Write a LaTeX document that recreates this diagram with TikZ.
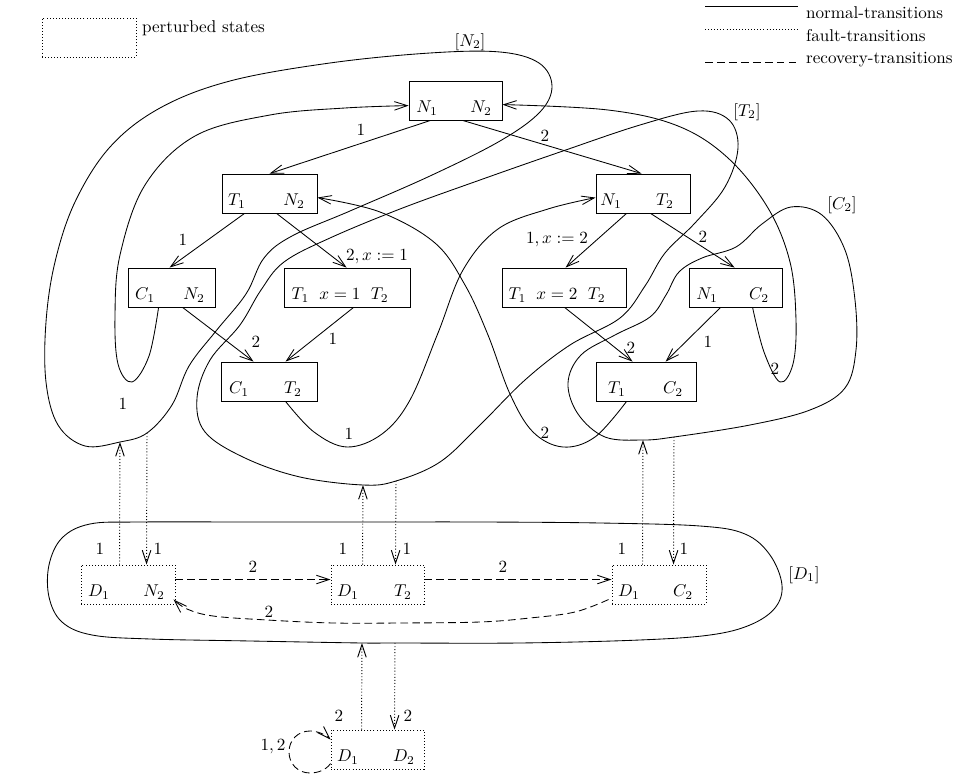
\documentclass[tikz,border=0pt]{standalone}
\usetikzlibrary{arrows.meta,calc}
\begin{document}
\begin{tikzpicture}[x=0.585pt,y=-0.585pt,line width=0.5pt,
  stbox/.style={draw,rectangle,inner sep=0pt,minimum height=22.8pt},
  dotln/.style={line width=0.55pt,dash pattern=on 0.55pt off 1.25pt},
  pbox/.style={stbox,dotln},
  stxt/.style={anchor=base,inner sep=0pt},
  lab/.style={inner sep=0pt},
  tipv/.style={-{Straight Barb[length=7.5pt,width=5pt]}},
  normal/.style={tipv},
  fault/.style={tipv,dotln},
  recov/.style={tipv,dash pattern=on 4.5pt off 2.5pt},
  loopline/.style={line width=0.5pt},
]
\useasboundingbox (0,0) rectangle (959,777);

% ---------- legend ----------
\node[pbox,minimum width=55pt] (leg) at (89,37.5) {};
\node[anchor=west] (legt) at (136,28) {perturbed states};
\coordinate (l1a) at (705,6);  \coordinate (l1b) at (798,6);
\coordinate (l2a) at (705,29); \coordinate (l2b) at (798,29);
\coordinate (l3a) at (705,62); \coordinate (l3b) at (798,62);
\draw (l1a) -- (l1b);
\draw[dotln] (l2a) -- (l2b);
\draw[dash pattern=on 4.5pt off 2.5pt] (l3a) -- (l3b);
\node[anchor=west] (lt1) at (800,13) {normal-transitions};
\node[anchor=west] (lt2) at (800,36) {fault-transitions};
\node[anchor=west] (lt3) at (800,60) {recovery-transitions};

% ---------- state boxes ----------
\node[stbox,minimum width=54.4pt] (n1n2) at (455.5,100.5) {};
\node[stbox,minimum width=55.6pt] (t1n2) at (269.5,193.5) {};
\node[stbox,minimum width=55.0pt] (n1t2) at (643,193.5) {};
\node[stbox,minimum width=50.9pt] (c1n2) at (171.5,287.5) {};
\node[stbox,minimum width=73.7pt] (t1x1) at (347,287.5) {};
\node[stbox,minimum width=56.2pt] (c1t2) at (269,381.5) {};
\node[stbox,minimum width=72.5pt] (t1x2) at (564,287.5) {};
\node[stbox,minimum width=54.4pt] (n1c2) at (735.5,287.5) {};
\node[stbox,minimum width=58.5pt] (t1c2) at (646,381.5) {};
\node[pbox,minimum width=55.0pt] (d1n2) at (128,584.5) {};
\node[pbox,minimum width=54.4pt] (d1t2) at (377.5,584.5) {};
\node[pbox,minimum width=55.0pt] (d1c2) at (659,584.5) {};
\node[pbox,minimum width=54.4pt] (d1d2) at (377.5,749.5) {};

% box texts
\node[stxt] (n1n2a) at (427,113) {$N_1$};
\node[stxt] (n1n2b) at (481,113) {$N_2$};
\node[stxt] (t1n2a) at (237,206) {$T_1$};
\node[stxt] (t1n2b) at (294,206) {$N_2$};
\node[stxt] (n1t2a) at (611,206) {$N_1$};
\node[stxt] (n1t2b) at (665,206) {$T_2$};
\node[stxt] (c1n2a) at (145,300) {$C_1$};
\node[stxt] (c1n2b) at (194,300) {$N_2$};
\node[stxt] (t1x1a) at (340,300) {$T_1$\hspace{6pt}$x=1$\hspace{6pt}$T_2$};
\node[stxt] (c1t2a) at (239,394) {$C_1$};
\node[stxt] (c1t2b) at (293,394) {$T_2$};
\node[stxt] (t1x2a) at (557,300) {$T_1$\hspace{6pt}$x=2$\hspace{6pt}$T_2$};
\node[stxt] (n1c2a) at (707,300) {$N_1$};
\node[stxt] (n1c2b) at (759,300) {$C_2$};
\node[stxt] (t1c2a) at (617,394) {$T_1$};
\node[stxt] (t1c2b) at (673,394) {$C_2$};
\node[stxt] (d1n2a) at (99,597) {$D_1$};
\node[stxt] (d1n2b) at (154,597) {$N_2$};
\node[stxt] (d1t2a) at (348,597) {$D_1$};
\node[stxt] (d1t2b) at (403,597) {$T_2$};
\node[stxt] (d1c2a) at (629,597) {$D_1$};
\node[stxt] (d1c2b) at (683,597) {$C_2$};
\node[stxt] (d1d2a) at (348,762) {$D_1$};
\node[stxt] (d1d2b) at (404,762) {$D_2$};

% ---------- separator ----------
\coordinate (sepa) at (11,507); \coordinate (sepb) at (882,507);
\draw[double,double distance=0.8pt,line width=0.4pt] (sepa) -- (sepb);

% ---------- normal transitions (straight) ----------
\draw[normal] ($(n1n2.south west)+(22,0)$) -- ($(t1n2.north west)+(48,0)$);
\draw[normal] ($(n1n2.south west)+(54,0)$) -- ($(n1t2.north west)+(46,0)$);
\draw[normal] ($(t1n2.south west)+(23,0)$) -- ($(c1n2.north west)+(42,0)$);
\draw[normal] ($(t1n2.south west)+(55,0)$) -- ($(t1x1.north west)+(63,0)$);
\draw[normal] ($(c1n2.south west)+(55,0)$) -- ($(c1t2.north west)+(33,0)$);
\draw[normal] ($(t1x1.south west)+(70,0)$) -- ($(c1t2.north west)+(65,0)$);
\draw[normal] ($(n1t2.south west)+(31,0)$) -- ($(t1x2.north west)+(64,0)$);
\draw[normal] ($(n1t2.south west)+(55,0)$) -- ($(n1c2.north west)+(46,0)$);
\draw[normal] ($(t1x2.south west)+(63,0)$) -- ($(t1c2.north west)+(37,0)$);
\draw[normal] ($(n1c2.south west)+(32,0)$) -- ($(t1c2.north west)+(70,0)$);

% ---------- normal transitions (curved) ----------
\coordinate (e11a) at ($(c1n2.south west)+(31,0)$);
\coordinate (e11b) at ($(n1n2.north west)+(0,25)$);
\coordinate (e12a) at ($(c1t2.south west)+(65,0)$);
\coordinate (e12b) at ($(n1t2.north west)+(0,24)$);
\coordinate (e13a) at ($(t1c2.south west)+(31,0)$);
\coordinate (e13b) at ($(t1n2.north east)+(0,24)$);
\coordinate (e14a) at ($(n1c2.south west)+(64,0)$);
\coordinate (e14b) at ($(n1n2.north east)+(0,24)$);

\draw[normal] plot[smooth,tension=0.6] coordinates {(e11a) (149,356) (132,382) (118,364) (115,315) (120,255) (145,185) (195,136) (270,115) (345,108) (e11b)};
\draw[normal] plot[smooth,tension=0.6] coordinates {(e12a) (314,432) (347,447) (382,434) (410,400) (438,333) (463,270) (498,229) (548,209) (e12b)};
\draw[normal] plot[smooth,tension=0.6] coordinates {(e13a) (595,437) (563,447) (533,432) (510,394) (488,335) (465,285) (435,243) (380,212) (e13b)};
\draw[normal] plot[smooth,tension=0.6] coordinates {(e14a) (764,352) (780,382) (793,364) (796,320) (790,262) (768,208) (728,158) (678,126) (608,110) (e14b)};

% ---------- region loops ----------
% [N2]
\draw[loopline] plot[smooth cycle,tension=0.6] coordinates {(120,442) (85,446) (58,425) (46,382) (46,322) (55,262) (75,202) (110,147) (160,108) (230,81) (330,63) (430,53) (500,52) (539,63) (552,86) (540,112) (500,141) (430,176) (350,211) (292,236) (264,258) (246,294) (216,331) (189,366) (172,405) (147,433)};
% [T2]
\draw[loopline] plot[smooth cycle,tension=0.6] coordinates {(363,485) (300,477) (245,458) (205,432) (197,398) (210,360) (240,325) (261,290) (284,262) (330,238) (400,209) (480,180) (560,152) (640,125) (698,111) (729,120) (738,148) (725,187) (695,223) (665,253) (645,286) (620,318) (570,345) (525,380) (480,425) (440,462) (396,481)};
% [C2]
\draw[loopline] plot[smooth cycle,tension=0.6] coordinates {(643,440) (605,437) (578,414) (568,383) (581,355) (615,335) (650,317) (666,295) (679,272) (702,258) (736,247) (762,224) (791,207) (822,215) (845,250) (855,300) (856,350) (845,388) (810,410) (750,425) (674,437)};
% [D1]
\draw[loopline] plot[smooth cycle,tension=0.6] coordinates {(362,643) (250,641) (150,639) (92,635) (62,622) (49,597) (49,565) (62,538) (90,524) (140,522) (250,522) (370,522) (480,522) (600,523) (700,526) (745,534) (770,555) (782,585) (775,608) (750,625) (710,635) (640,640) (520,643) (395,643)};

\node[lab] (rN2) at (470,42) {$[N_2]$};
\node[lab] (rT2) at (747,112) {$[T_2]$};
\node[lab] (rC2) at (842,205) {$[C_2]$};
\node[lab] (rD1) at (804,575) {$[D_1]$};

% ---------- fault transitions ----------
\coordinate (fN2a) at (120,442); \coordinate (fN2b) at (147,433);
\coordinate (fT2a) at (363,485); \coordinate (fT2b) at (396,481);
\coordinate (fC2a) at (643,440); \coordinate (fC2b) at (674,437);
\coordinate (fD1a) at (362,643); \coordinate (fD1b) at (395,643);
\draw[fault] ($(d1n2.north west)+(39,0)$) -- (fN2a);
\draw[fault] (fN2b) -- ($(d1n2.north west)+(66,0)$);
\draw[fault] ($(d1t2.north west)+(32,0)$) -- (fT2a);
\draw[fault] (fT2b) -- ($(d1t2.north west)+(65,0)$);
\draw[fault] ($(d1c2.north west)+(31,0)$) -- (fC2a);
\draw[fault] (fC2b) -- ($(d1c2.north west)+(62,0)$);
\draw[fault] ($(d1d2.north west)+(31,0)$) -- (fD1a);
\draw[fault] (fD1b) -- ($(d1d2.north west)+(64,0)$);

% ---------- recovery transitions ----------
\draw[recov] ($(d1n2.north east)+(0,15)$) -- ($(d1t2.north west)+(0,15)$);
\draw[recov] ($(d1t2.north east)+(0,15)$) -- ($(d1c2.north west)+(0,15)$);
\coordinate (r3a) at ($(d1c2.north west)+(-3,35)$);
\coordinate (r3b) at ($(d1n2.south east)+(-2,-5)$);
\draw[recov] plot[smooth,tension=0.6] coordinates {(r3a) (575,612) (530,618) (480,622) (400,623) (333,623) (267,620) (213,616) (187,609) (r3b)};
\coordinate (r4a) at ($(d1d2.north west)+(0,34)$);
\coordinate (r4b) at ($(d1d2.north west)+(0,10)$);
\draw[recov] (r4a) .. controls (326,770) and (318,773) .. (310,773)
  .. controls (298,773) and (289,764) .. (289,752)
  .. controls (289,740) and (298,731) .. (310,731)
  .. controls (318,731) and (326,735) .. (r4b);

% ---------- labels ----------
\node[lab] (a1) at (361,130) {$1$};
\node[lab] (a2) at (545,136) {$2$};
\node[lab] (a3) at (183,240) {$1$};
\node[lab] (a4) at (377,257) {$2,x:=1$};
\node[lab] (a5) at (256,342) {$2$};
\node[lab] (a6) at (333,339) {$1$};
\node[lab] (a7) at (557,240) {$1,x:=2$};
\node[lab] (a8) at (703,237) {$2$};
\node[lab] (a9) at (631,348) {$2$};
\node[lab] (a10) at (708,342) {$1$};
\node[lab] (a11) at (123,404) {$1$};
\node[lab] (a12) at (349,434) {$1$};
\node[lab] (a13) at (545,433) {$2$};
\node[lab] (a14) at (775,369) {$2$};
\node[lab] (f1) at (100,549) {$1$};
\node[lab] (f2) at (158,549) {$1$};
\node[lab] (f3) at (343,549) {$1$};
\node[lab] (f4) at (407,549) {$1$};
\node[lab] (f5) at (622,549) {$1$};
\node[lab] (f6) at (684,549) {$1$};
\node[lab] (f7) at (339,716) {$2$};
\node[lab] (f8) at (408,716) {$2$};
\node[lab] (g1) at (253,567) {$2$};
\node[lab] (g2) at (503,567) {$2$};
\node[lab] (g3) at (269,612) {$2$};
\node[lab] (g4) at (273,747) {$1,2$};
\end{tikzpicture}
\end{document}
